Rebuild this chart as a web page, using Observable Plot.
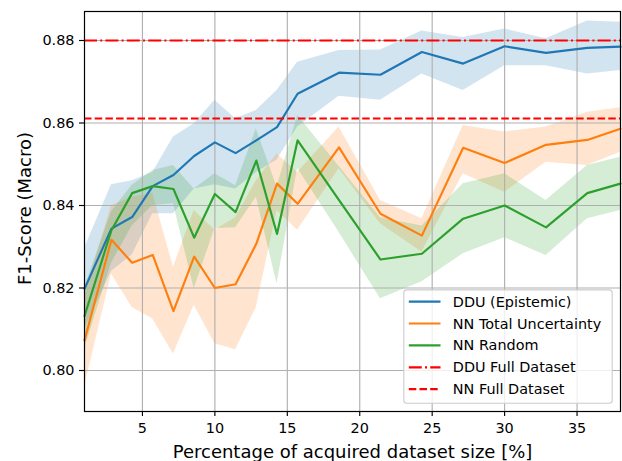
<!DOCTYPE html>
<html>
<head>
<meta charset="utf-8">
<script src="https://cdn.jsdelivr.net/npm/d3@7"></script>
<script src="https://cdn.jsdelivr.net/npm/@observablehq/plot@0.6"></script>
<style>
  html, body { margin: 0; padding: 0; background: white; }
  #chart { position: relative; width: 622px; height: 461px; }
</style>
</head>
<body>
<div id="chart"></div>
<script>
// ---- data ----
const pct = [1, 2.86, 4.29, 5.71, 7.14, 8.57, 10, 11.43, 12.86, 14.29, 15.71, 18.57, 21.43, 24.29, 27.14, 30, 32.86, 35.71, 38];

const ddu   = [0.8198, 0.8344, 0.8372, 0.8447, 0.8474, 0.8520, 0.8553, 0.8527, 0.8558, 0.8590, 0.8671, 0.8722, 0.8717, 0.8772, 0.8744, 0.8786, 0.8770, 0.8782, 0.8785];
const dduHi = [0.8296, 0.8450, 0.8460, 0.8480, 0.8566, 0.8598, 0.8655, 0.8610, 0.8630, 0.8679, 0.8747, 0.8776, 0.8777, 0.8823, 0.8807, 0.8828, 0.8804, 0.8847, 0.8844];
const dduLo = [0.8100, 0.8240, 0.8280, 0.8380, 0.8380, 0.8440, 0.8450, 0.8440, 0.8480, 0.8510, 0.8590, 0.8665, 0.8655, 0.8719, 0.8679, 0.8739, 0.8739, 0.8719, 0.8727];

const nnTotal   = [0.8073, 0.8317, 0.8261, 0.8280, 0.8144, 0.8276, 0.8200, 0.8209, 0.8307, 0.8453, 0.8404, 0.8541, 0.8380, 0.8327, 0.8540, 0.8503, 0.8547, 0.8559, 0.8586];
const nnTotalHi = [0.8180, 0.8400, 0.8420, 0.8430, 0.8250, 0.8388, 0.8340, 0.8370, 0.8460, 0.8525, 0.8480, 0.8590, 0.8412, 0.8368, 0.8594, 0.8578, 0.8590, 0.8626, 0.8637];
const nnTotalLo = [0.7960, 0.8234, 0.8153, 0.8125, 0.8040, 0.8158, 0.8065, 0.8050, 0.8153, 0.8388, 0.8340, 0.8489, 0.8356, 0.8287, 0.8477, 0.8432, 0.8505, 0.8497, 0.8529];

const nnRandom   = [0.8132, 0.8340, 0.8430, 0.8447, 0.8440, 0.8322, 0.8428, 0.8384, 0.8509, 0.8331, 0.8558, 0.8413, 0.8269, 0.8283, 0.8368, 0.8400, 0.8347, 0.8430, 0.8453];
const nnRandomHi = [0.8200, 0.8385, 0.8449, 0.8485, 0.8497, 0.8440, 0.8477, 0.8448, 0.8586, 0.8444, 0.8618, 0.8495, 0.8370, 0.8350, 0.8453, 0.8477, 0.8412, 0.8497, 0.8517];
const nnRandomLo = [0.8050, 0.8260, 0.8350, 0.8400, 0.8404, 0.8198, 0.8344, 0.8346, 0.8420, 0.8210, 0.8490, 0.8335, 0.8174, 0.8215, 0.8283, 0.8322, 0.8279, 0.8368, 0.8388];

const dduFull = 0.88;
const nnFull = 0.8611;

const xTicks = [5, 10, 15, 20, 25, 30, 35];
const yTicks = [0.80, 0.82, 0.84, 0.86, 0.88];

const seriesNames = ["DDU (Epistemic)", "NN Total Uncertainty", "NN Random", "DDU Full Dataset", "NN Full Dataset"];
const colors = ["#1f77b4", "#ff7f0e", "#2ca02c", "#ff0000", "#ff0000"];
const dashes = [null, null, null, "13,3.2,2,3.2", "7.5,3.2"];

// ---- build tables ----
function table(mid, lo, hi) {
  return pct.map((x, i) => ({x, y: mid[i], lo: lo[i], hi: hi[i]}));
}
const series = [
  table(ddu, dduLo, dduHi),
  table(nnTotal, nnTotalLo, nnTotalHi),
  table(nnRandom, nnRandomLo, nnRandomHi)
];

const LW = 2.16;
const marks = [];
series.forEach((d, i) => {
  marks.push(Plot.areaY(d, {x: "x", y1: "lo", y2: "hi", fill: colors[i], fillOpacity: 0.2}));
});
marks.push(Plot.gridX(xTicks, {stroke: "#b0b0b0", strokeOpacity: 1, strokeWidth: 1.15}));
marks.push(Plot.gridY(yTicks, {stroke: "#b0b0b0", strokeOpacity: 1, strokeWidth: 1.15}));
series.forEach((d, i) => {
  marks.push(Plot.lineY(d, {x: "x", y: "y", stroke: colors[i], strokeWidth: LW}));
});
marks.push(Plot.ruleY([dduFull], {stroke: colors[3], strokeWidth: LW, strokeDasharray: dashes[3]}));
marks.push(Plot.ruleY([nnFull], {stroke: colors[4], strokeWidth: LW, strokeDasharray: dashes[4]}));
marks.push(Plot.frame({stroke: "black", strokeWidth: 1.2}));
marks.push(Plot.axisX(xTicks, {tickSize: 5, tickPadding: 6, fontSize: 14.4, label: null, strokeWidth: 1.15}));
marks.push(Plot.axisY(yTicks, {tickSize: 5, tickPadding: 5, fontSize: 14.4, label: null, tickFormat: d3.format(".2f"), strokeWidth: 1.15}));
marks.push(Plot.text(["Percentage of acquired dataset size [%]"], {frameAnchor: "bottom", dy: 41, fontSize: 18, lineAnchor: "middle", textAnchor: "middle", fill: "black"}));
marks.push(Plot.text(["F1-Score (Macro)"], {frameAnchor: "left", dx: -59, dy: -3, rotate: -90, fontSize: 18, lineAnchor: "middle", textAnchor: "middle", fill: "black"}));

const plot = Plot.plot({
  width: 622,
  height: 461,
  marginLeft: 84,
  marginRight: 2,
  marginTop: 11,
  marginBottom: 50,
  x: {domain: [1, 38]},
  y: {domain: [0.79006, 0.88703]},
  style: {fontFamily: "DejaVu Sans", fontSize: "14.4px", background: "white", color: "black", overflow: "visible"},
  marks
});
document.getElementById("chart").appendChild(plot);

// ---- legend (inside plot, lower right) ----
const svg = d3.select(plot);
const frameRight = 622 - 2, frameBottom = 461 - 50;
const lw = 208.4, lh = 113.3, pad = 7.8;
const lx = frameRight - pad - lw, ly = frameBottom - pad - lh;
const g = svg.append("g").attr("transform", `translate(${lx},${ly})`).attr("text-anchor", "start");
g.append("rect").attr("width", lw).attr("height", lh).attr("rx", 3)
  .attr("fill", "white").attr("fill-opacity", 0.8).attr("stroke", "#cccccc").attr("stroke-width", 1.1);
seriesNames.forEach((name, i) => {
  const cy = 11.7 + i * 21.9;
  g.append("line").attr("x1", 5).attr("x2", 36.7).attr("y1", cy).attr("y2", cy)
    .attr("stroke", colors[i]).attr("stroke-width", LW)
    .attr("stroke-dasharray", dashes[i]);
  g.append("text").attr("x", 49).attr("y", cy).attr("dy", "0.35em")
    .attr("text-anchor", "start")
    .attr("font-family", "DejaVu Sans").attr("font-size", 14.4).attr("fill", "black")
    .text(name);
});
</script>
</body>
</html>
